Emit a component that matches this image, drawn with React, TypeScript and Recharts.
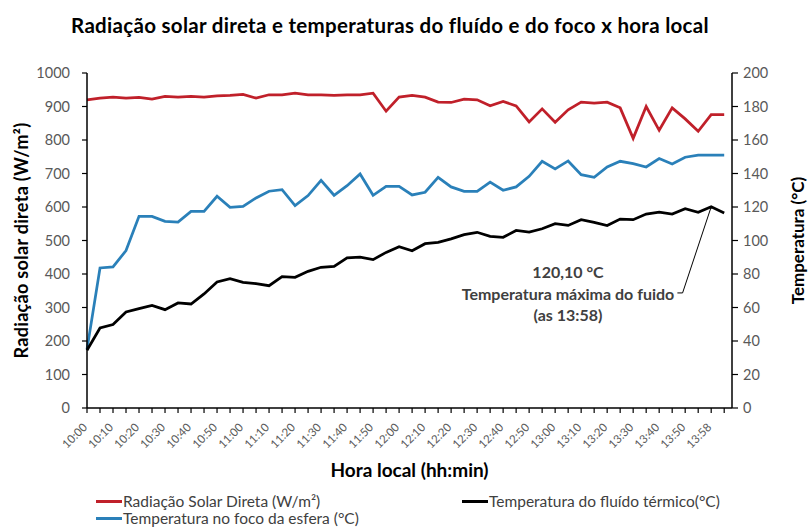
import React from 'react';
import { LineChart, Line, XAxis, YAxis, ReferenceLine } from 'recharts';

// horário de cada leitura (rótulo mostrado a cada 2 categorias)
const hora = [
  '10:00', '10:05', '10:10', '10:15', '10:20', '10:25', '10:30', '10:35', '10:40', '10:45',
  '10:50', '10:55', '11:00', '11:05', '11:10', '11:15', '11:20', '11:25', '11:30', '11:35',
  '11:40', '11:45', '11:50', '11:55', '12:00', '12:05', '12:10', '12:15', '12:20', '12:25',
  '12:30', '12:35', '12:40', '12:45', '12:50', '12:55', '13:00', '13:05', '13:10', '13:15',
  '13:20', '13:25', '13:30', '13:35', '13:40', '13:45', '13:50', '13:55', '13:58', '14:00',
];

// W/m²
const radiacao = [
  920, 925, 928, 925, 927, 922, 930, 928, 930, 928,
  932, 933, 936, 925, 935, 935, 940, 935, 935, 933,
  935, 935, 940, 886, 928, 933, 928, 913, 912, 922,
  920, 902, 915, 902, 854, 893, 853, 890, 913, 910,
  913, 896, 805, 900, 829, 896, 863, 826, 876, 876,
];

// °C
const tempFoco = [
  35, 83.6, 84.2, 94, 114.4, 114.4, 111.4, 111, 117.4, 117.4,
  126.4, 119.8, 120.4, 125.4, 129.4, 130.3, 120.8, 126.8, 135.9, 127,
  132.7, 139.7, 127, 132.3, 132.3, 127.2, 128.8, 137.7, 132, 129.4,
  129.4, 134.9, 130, 132, 138.3, 147.3, 142.7, 147.5, 139.3, 137.7,
  143.9, 147.3, 145.9, 143.9, 148.9, 145.7, 149.7, 151, 151, 151,
];

// °C
const tempFluido = [
  34.5, 47.8, 49.8, 57.3, 59.3, 61.3, 58.7, 62.7, 62.1, 68.1,
  75.2, 77.2, 75, 74.2, 73, 78.4, 78, 81.6, 84, 84.6,
  89.6, 90, 88.6, 92.9, 96.3, 93.9, 98.1, 98.9, 101, 103.5,
  104.9, 102.5, 101.9, 106, 105, 107, 110, 109, 112.4, 110.8,
  108.9, 112.8, 112.4, 115.8, 117, 115.8, 119, 116.8, 120.1, 116.4,
];

const radTicks = [0, 100, 200, 300, 400, 500, 600, 700, 800, 900, 1000];
const tempTicks = [0, 20, 40, 60, 80, 100, 120, 140, 160, 180, 200];

const RED = '#C0202A';
const BLUE = '#2A80B9';
const BLACK = '#000000';
const FONT = 'Lato, "Open Sans", sans-serif';

const data = hora.map((h, i) => ({
  idx: i,
  hora: h,
  rad: radiacao[i],
  foco: tempFoco[i],
  fluido: tempFluido[i],
}));

const idxTicks = hora.map((_, i) => i);
const iMax = tempFluido.indexOf(Math.max(...tempFluido));

function HoraTick(props: any) {
  const { x, y, payload } = props;
  const i = payload.value;
  if (i % 2 !== 0) return <g />;
  const tx = x + 1;
  const ty = y + 13;
  return (
    <text
      x={tx}
      y={ty}
      transform={`rotate(-45 ${tx} ${ty})`}
      textAnchor="end"
      fontSize={11.5}
      fontFamily={FONT}
      fill="#595959"
    >
      {hora[i]}
    </text>
  );
}

function LegendItem({ left, top, color, text }: { left: number; top: number; color: string; text: string }) {
  return (
    <div style={{ position: 'absolute', left, top, display: 'flex', alignItems: 'center', height: 18, whiteSpace: 'nowrap' }}>
      <span style={{ display: 'inline-block', width: 26, height: 3, background: color }} />
      <span style={{ fontSize: 15.5, lineHeight: '18px', color: '#404040', marginLeft: 1 }}>{text}</span>
    </div>
  );
}

export default function App() {
  return (
    <div style={{ position: 'absolute', left: 0, top: 0, width: 808, height: 529, background: '#fff', fontFamily: FONT }}>
      <div
        style={{
          position: 'absolute',
          left: 390,
          top: 12,
          transform: 'translateX(-50%)',
          whiteSpace: 'nowrap',
          fontSize: 20.5,
          letterSpacing: 0.3,
          lineHeight: '26px',
          fontWeight: 700,
          color: '#000',
        }}
      >
        Radiação solar direta e temperaturas do fluído e do foco x hora local
      </div>

      <LineChart width={808} height={529} data={data} margin={{ top: 73, right: 0, bottom: 0, left: 0 }}>
        <XAxis
          dataKey="idx"
          type="number"
          domain={[0, 49.6]}
          ticks={idxTicks}
          interval={0}
          height={121}
          tick={(p: any) => <HoraTick {...p} />}
          tickSize={5}
          axisLine={{ stroke: BLACK, strokeWidth: 1.5 }}
          tickLine={{ stroke: BLACK, strokeWidth: 1.2 }}
          label={{
            value: 'Hora local (hh:min)',
            position: 'insideBottom',
            offset: 52,
            style: { fontSize: 19, fontWeight: 700, fill: '#000', fontFamily: FONT },
          }}
        />
        <YAxis
          yAxisId="left"
          domain={[0, 1000]}
          ticks={radTicks}
          interval={0}
          width={87}
          tickSize={5}
          tickMargin={12}
          tick={{ fontSize: 14.5, fill: '#595959', fontFamily: FONT }}
          axisLine={{ stroke: BLACK, strokeWidth: 1.5 }}
          tickLine={{ stroke: BLACK, strokeWidth: 1.2 }}
          label={{
            value: 'Radiação solar direta (W/m²)',
            angle: -90,
            position: 'insideLeft',
            offset: 22,
            style: { textAnchor: 'middle', fontSize: 18, letterSpacing: 0.3, fontWeight: 700, fill: '#000', fontFamily: FONT },
          }}
        />
        <YAxis
          yAxisId="right"
          orientation="right"
          domain={[0, 200]}
          ticks={tempTicks}
          interval={0}
          width={76}
          tickSize={6}
          tickMargin={5}
          tick={{ fontSize: 14.5, fill: '#595959', fontFamily: FONT }}
          axisLine={{ stroke: BLACK, strokeWidth: 1.5 }}
          tickLine={{ stroke: BLACK, strokeWidth: 1.2 }}
          label={{
            value: 'Temperatura (°C)',
            angle: -90,
            position: 'insideRight',
            offset: 10,
            style: { textAnchor: 'middle', fontSize: 17, fontWeight: 700, fill: '#000', fontFamily: FONT },
          }}
        />
        <Line yAxisId="left" type="linear" dataKey="rad" stroke={RED} strokeWidth={2.75} dot={false} isAnimationActive={false} />
        <Line yAxisId="right" type="linear" dataKey="foco" stroke={BLUE} strokeWidth={2.75} dot={false} isAnimationActive={false} />
        <Line yAxisId="right" type="linear" dataKey="fluido" stroke={BLACK} strokeWidth={2.75} dot={false} isAnimationActive={false} />
        {/* seta da anotação do máximo */}
        <ReferenceLine
          yAxisId="right"
          segment={[{ x: 45.4, y: 68.7 }, { x: 45.8, y: 68.7 }]}
          stroke={BLACK}
          strokeWidth={1}
        />
        <ReferenceLine
          yAxisId="right"
          segment={[{ x: 45.8, y: 68.7 }, { x: iMax, y: tempFluido[iMax] }]}
          stroke={BLACK}
          strokeWidth={1}
        />
      </LineChart>

      <div
        style={{
          position: 'absolute',
          left: 568,
          top: 261,
          transform: 'translateX(-50%)',
          textAlign: 'center',
          whiteSpace: 'nowrap',
          fontSize: 16,
          fontWeight: 700,
          lineHeight: '21.5px',
          color: '#404040',
        }}
      >
        <div>120,10 °C</div>
        <div>Temperatura máxima do fuido</div>
        <div>(as 13:58)</div>
      </div>

      <LegendItem left={96} top={492} color={RED} text="Radiação Solar Direta (W/m²)" />
      <LegendItem left={462} top={492} color={BLACK} text="Temperatura do fluído térmico(°C)" />
      <LegendItem left={96} top={509} color={BLUE} text="Temperatura no foco da esfera (°C)" />
    </div>
  );
}
